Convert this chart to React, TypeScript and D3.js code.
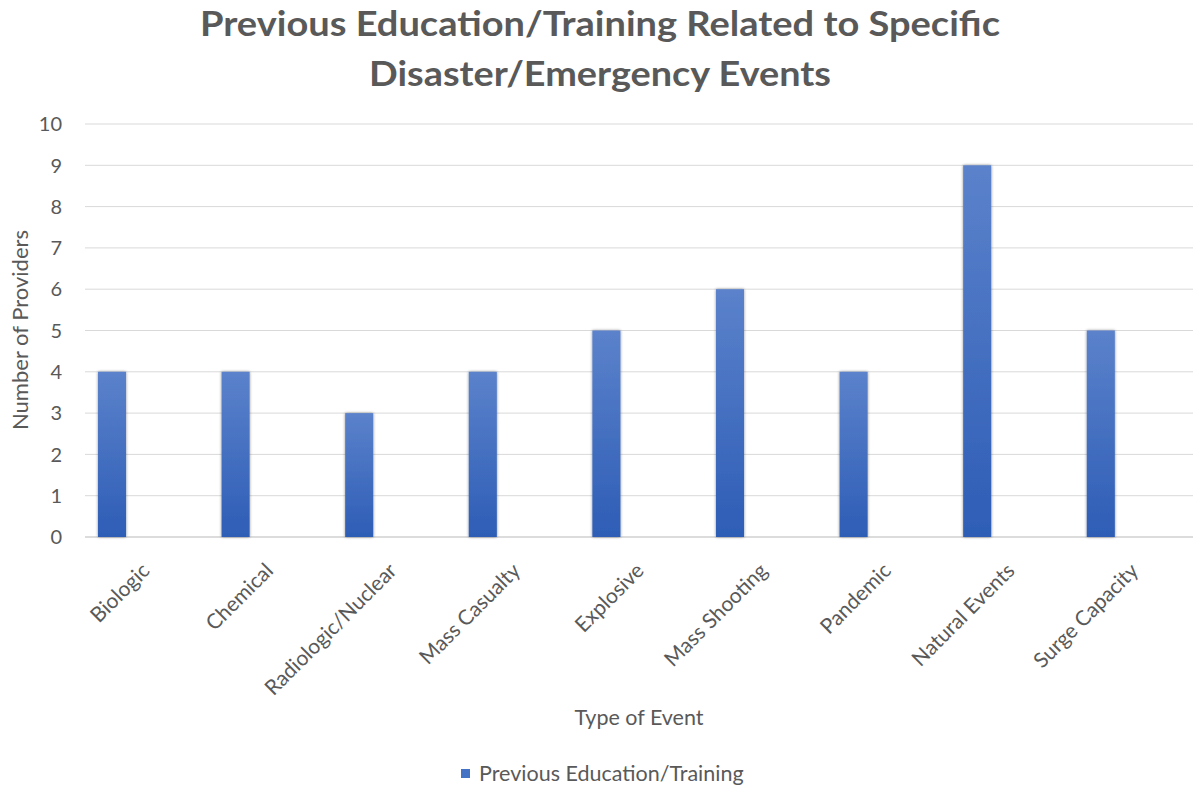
import React from "react";
import * as d3 from "d3";

const categories = [
  "Biologic",
  "Chemical",
  "Radiologic/Nuclear",
  "Mass Casualty",
  "Explosive",
  "Mass Shooting",
  "Pandemic",
  "Natural Events",
  "Surge Capacity",
];
const values = [4, 4, 3, 4, 5, 6, 4, 9, 5];
const yTicks = [0, 1, 2, 3, 4, 5, 6, 7, 8, 9, 10];
const seriesName = "Previous Education/Training";
const titleLines = ["Previous Education/Training Related to Specific", "Disaster/Emergency Events"];

const W = 1193;
const H = 789;
const FONT = "Lato, 'Open Sans', sans-serif";
const GRAY = "#595959";

export default function App() {
  const left = 85;
  const slot = 123.6;
  const right = left + slot * categories.length;
  const x = d3.scaleBand<string>().domain(categories).range([left, right]).padding(0);
  const y = d3.scaleLinear().domain([0, 10]).range([537, 124]);
  const bw = x.bandwidth();
  const barOffset = bw * 0.105;
  const barW = bw * 0.227;

  return (
    <svg width={W} height={H} style={{ position: "absolute", left: 0, top: 0, background: "#fff" }}>
      <defs>
        <linearGradient id="barGrad" x1="0" y1="0" x2="0" y2="1">
          <stop offset="0%" stopColor="#5b82cb" />
          <stop offset="100%" stopColor="#2e5db6" />
        </linearGradient>
        <filter id="shadow" x="-30%" y="-5%" width="160%" height="110%">
          <feGaussianBlur in="SourceAlpha" stdDeviation="1.6" />
          <feOffset dx="0" dy="0" result="b" />
          <feComponentTransfer>
            <feFuncA type="linear" slope="0.45" />
          </feComponentTransfer>
          <feMerge>
            <feMergeNode />
            <feMergeNode in="SourceGraphic" />
          </feMerge>
        </filter>
      </defs>
      <rect width={W} height={H} fill="#fff" />

      {titleLines.map((t, i) => (
        <text
          key={i}
          x={600}
          y={36 + i * 50}
          textAnchor="middle"
          fontFamily={FONT}
          fontWeight="bold"
          fontSize={34}
          fill={GRAY}
          textLength={i === 0 ? 800 : 462}
          lengthAdjust="spacingAndGlyphs"
        >
          {t}
        </text>
      ))}

      {yTicks.map((t) => (
        <g key={t}>
          <line
            x1={left}
            x2={W}
            y1={y(t)}
            y2={y(t)}
            stroke={t === 0 ? "#d0d0d0" : "#d9d9d9"}
            strokeWidth={t === 0 ? 1.5 : 1}
          />
          <text
            x={62}
            y={y(t)}
            dy="0.36em"
            textAnchor="end"
            fontFamily={FONT}
            fontSize={20}
            fill={GRAY}
          >
            {t}
          </text>
        </g>
      ))}

      {categories.map((c, i) => (
        <rect
          key={c}
          x={(x(c) as number) + barOffset}
          y={y(values[i])}
          width={barW}
          height={y(0) - y(values[i])}
          fill="url(#barGrad)"
          filter="url(#shadow)"
        />
      ))}

      {categories.map((c) => {
        const cx = (x(c) as number) + bw / 2 + 4;
        return (
          <text
            key={c}
            transform={`translate(${cx},${572}) rotate(-45)`}
            textAnchor="end"
            fontFamily={FONT}
            fontSize={21}
            fill={GRAY}
          >
            {c}
          </text>
        );
      })}

      <text
        transform={`translate(28,330) rotate(-90)`}
        textAnchor="middle"
        fontFamily={FONT}
        fontSize={22}
        fill={GRAY}
      >
        Number of Providers
      </text>
      <text x={639} y={725} textAnchor="middle" fontFamily={FONT} fontSize={21.5} fill={GRAY}>
        Type of Event
      </text>

      <rect x={461} y={769} width={9} height={9} fill="#4472c4" />
      <text x={479} y={781} fontFamily={FONT} fontSize={21.5} fill={GRAY}>
        {seriesName}
      </text>
    </svg>
  );
}
